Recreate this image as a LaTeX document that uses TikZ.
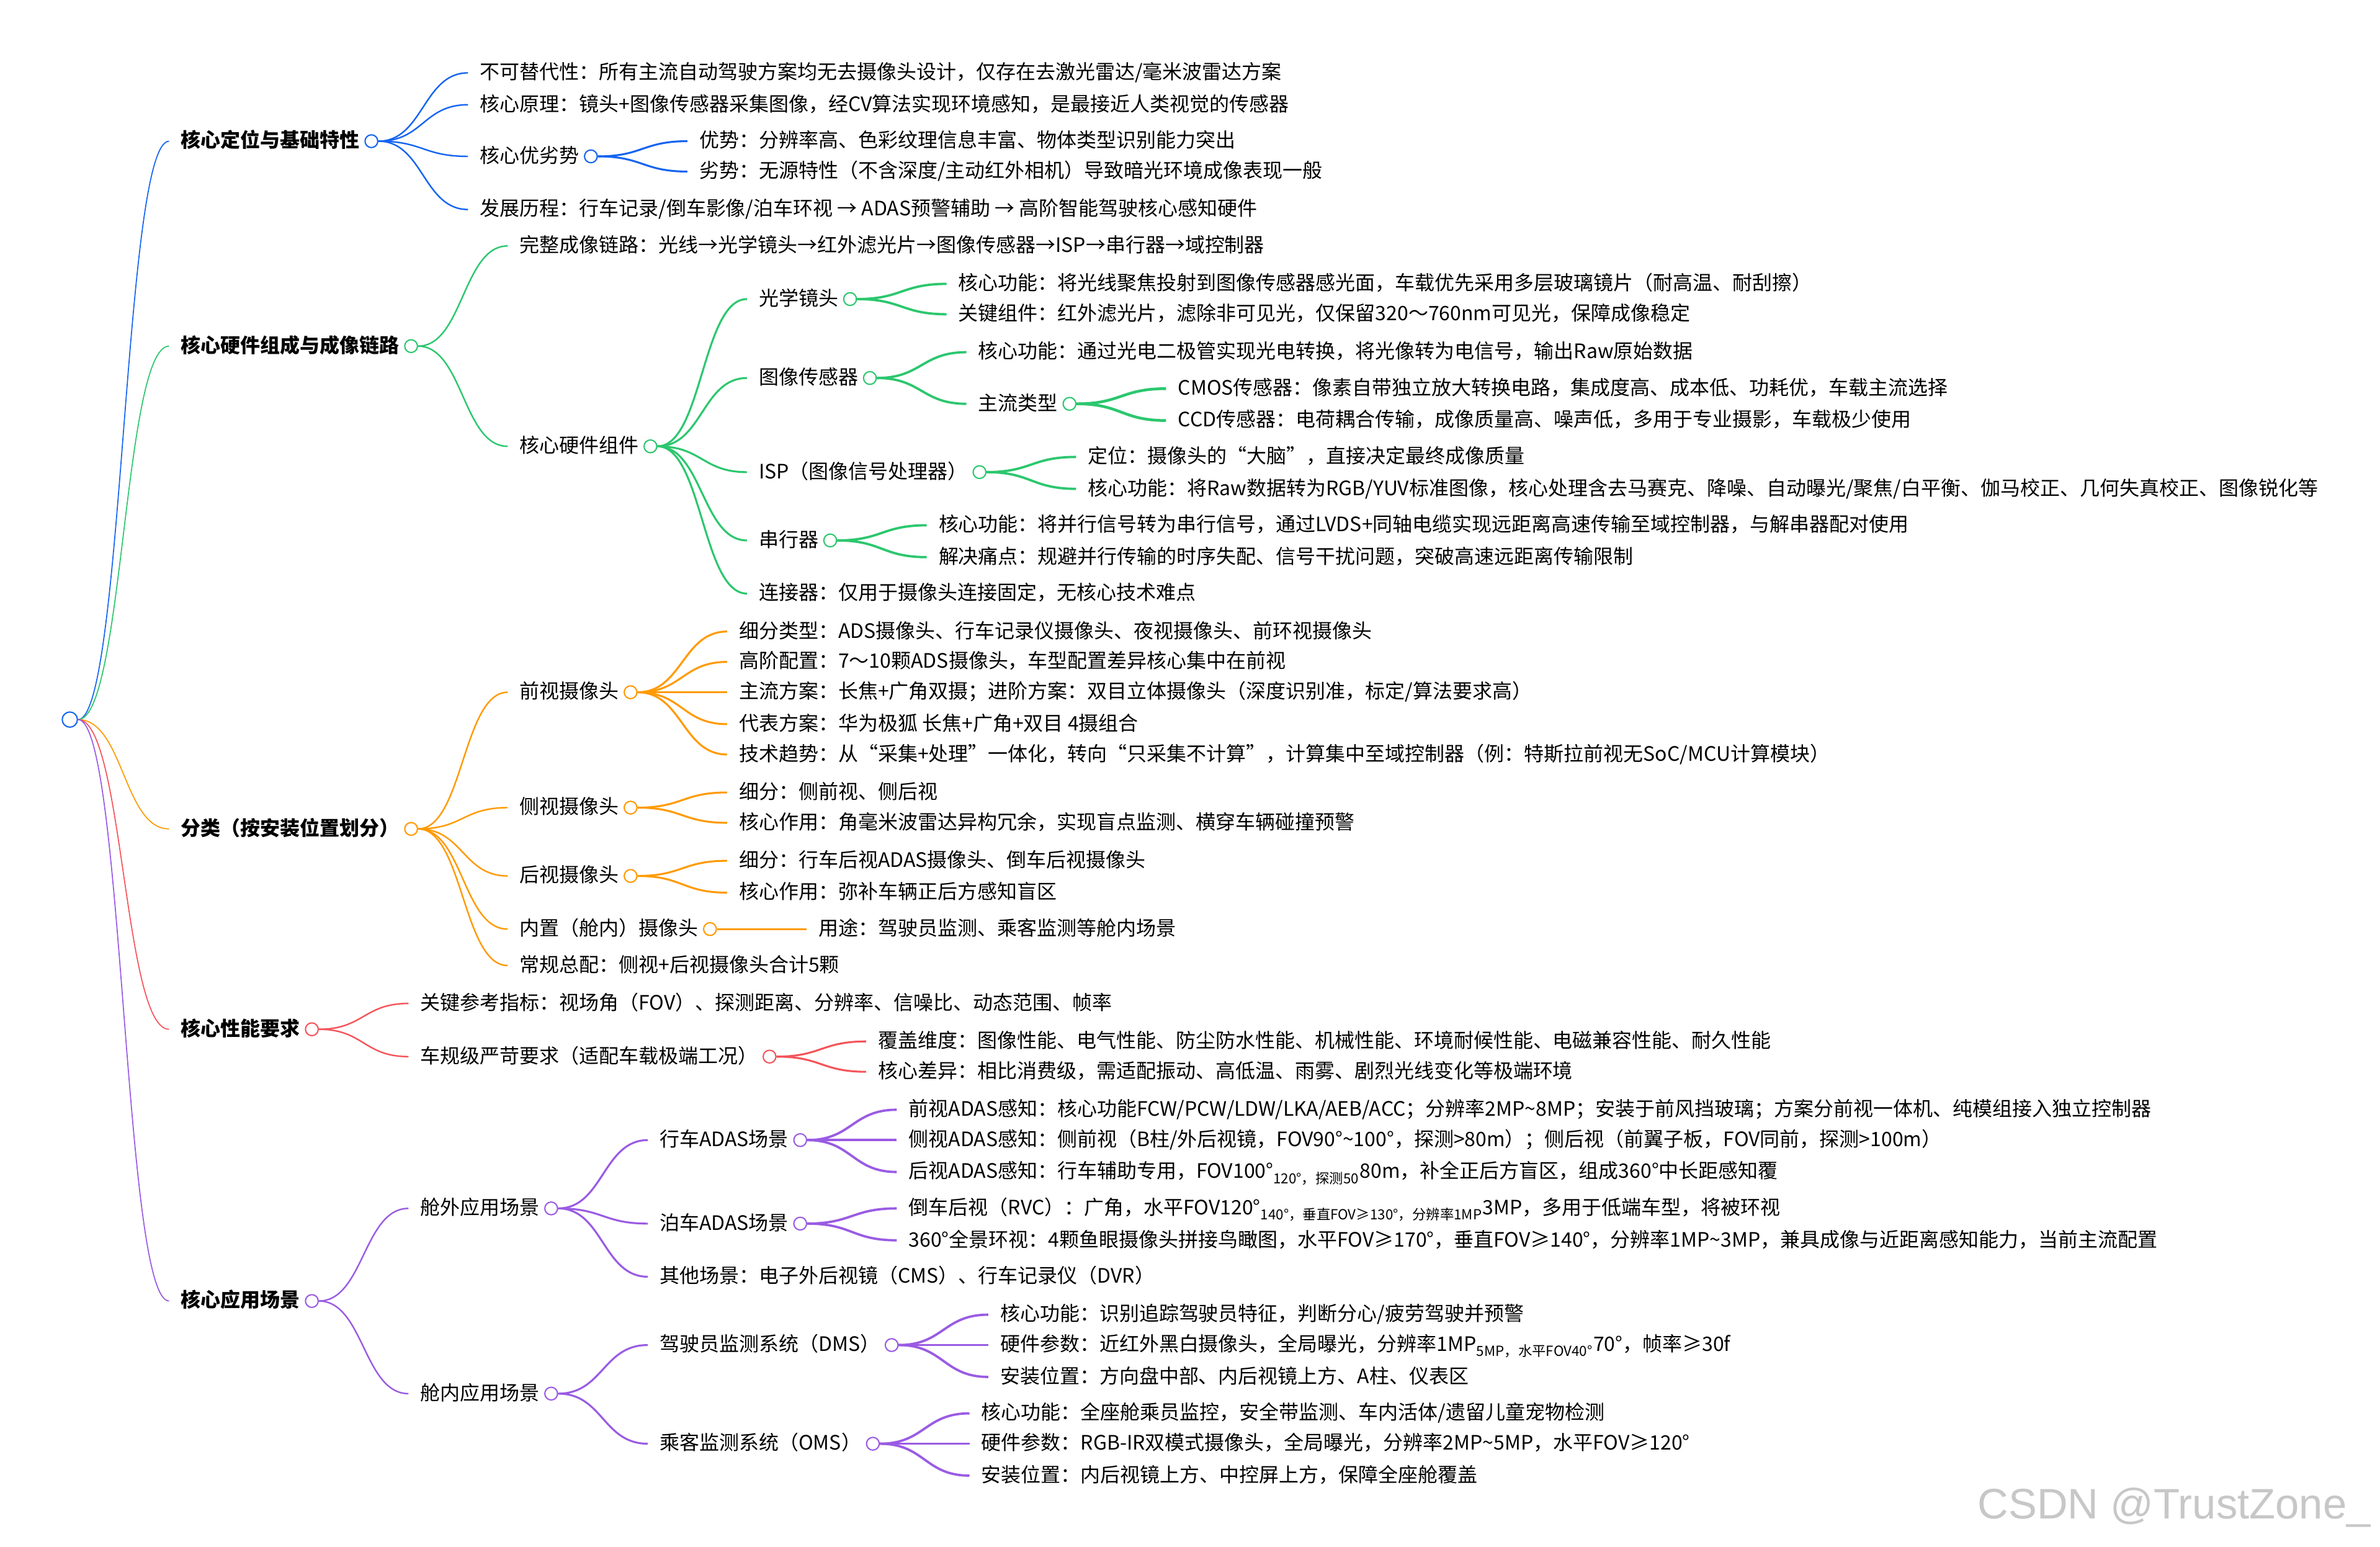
\documentclass[tikz,border=0pt]{standalone}
\usepackage{fontspec}
\newfontfamily\cjk{Noto Sans CJK SC}
\newfontfamily\wmfont{Liberation Sans}
\usetikzlibrary{positioning, calc, backgrounds}
\definecolor{mblue}{HTML}{1565F0}
\definecolor{mgreen}{HTML}{2CC76E}
\definecolor{morange}{HTML}{FF9A00}
\definecolor{mred}{HTML}{F5545A}
\definecolor{mpurple}{HTML}{9A5BE3}
\tikzset{
  txt/.style={font=\cjk\fontsize{9.3}{11}\selectfont, inner sep=0pt, anchor=west,
              text height=0.8em, text depth=0.2em},
  head/.style={txt, font=\cjk\bfseries\fontsize{9.3}{11}\selectfont},
  kid/.style={txt, xshift=1.78cm},
  knob/.style={circle, draw=#1, fill=white, line width=0.6pt, minimum size=0.21cm, inner sep=0pt},
  % curve from a knob to the left end of a child text
  branch/.style={to path={let \p1=(\tikztostart), \p2=([xshift=-0.19cm]\tikztotarget.west) in
      .. controls ({(\x1+\x2)/2},\y1) and ({(\x1+\x2)/2},\y2) .. (\p2)}},
  e1/.style={branch, line width=0.5pt},
  e2/.style={branch, line width=0.7pt},
  e3/.style={branch, line width=0.9pt},
  e4/.style={branch, line width=1.1pt},
  e5/.style={branch, line width=1.3pt},
}
\begin{document}
\begin{tikzpicture}[x=0.025cm, y=-0.025cm, node distance=0.07cm]
  \useasboundingbox (0,0) rectangle (1568,1019);

  % root
  \node[knob=mblue, minimum size=0.25cm] (root) at (46,474) {};

  % --- 核心定位与基础特性
  \node[head] (pos) at (119,93) {核心定位与基础特性};
  \node[knob=mblue, right=of pos] (posc) {};
  \node[kid] (pos1) at (posc |- 0,48) {不可替代性：所有主流自动驾驶方案均无去摄像头设计，仅存在去激光雷达/毫米波雷达方案};
  \node[kid] (pos2) at (posc |- 0,69) {核心原理：镜头+图像传感器采集图像，经CV算法实现环境感知，是最接近人类视觉的传感器};
  \node[kid] (pos3) at (posc |- 0,103) {核心优劣势};
  \node[knob=mblue, right=of pos3] (pos3c) {};
  \node[kid] (pos31) at (pos3c |- 0,93) {优势：分辨率高、色彩纹理信息丰富、物体类型识别能力突出};
  \node[kid] (pos32) at (pos3c |- 0,113) {劣势：无源特性（不含深度/主动红外相机）导致暗光环境成像表现一般};
  \node[kid] (pos4) at (posc |- 0,138) {发展历程：行车记录/倒车影像/泊车环视 → ADAS预警辅助 → 高阶智能驾驶核心感知硬件};

  % --- 核心硬件组成与成像链路
  \node[head] (hw) at (119,228) {核心硬件组成与成像链路};
  \node[knob=mgreen, right=of hw] (hwc) {};
  \node[kid] (hw1) at (hwc |- 0,162) {完整成像链路：光线→光学镜头→红外滤光片→图像传感器→ISP→串行器→域控制器};
  \node[kid] (hw2) at (hwc |- 0,294) {核心硬件组件};
  \node[knob=mgreen, right=of hw2] (hw2c) {};
  \node[kid] (lens) at (hw2c |- 0,197) {光学镜头};
  \node[knob=mgreen, right=of lens] (lensc) {};
  \node[kid] (lens1) at (lensc |- 0,187) {核心功能：将光线聚焦投射到图像传感器感光面，车载优先采用多层玻璃镜片（耐高温、耐刮擦）};
  \node[kid] (lens2) at (lensc |- 0,207) {关键组件：红外滤光片，滤除非可见光，仅保留320～760nm可见光，保障成像稳定};
  \node[kid] (sens) at (hw2c |- 0,249) {图像传感器};
  \node[knob=mgreen, right=of sens] (sensc) {};
  \node[kid] (sens1) at (sensc |- 0,232) {核心功能：通过光电二极管实现光电转换，将光像转为电信号，输出Raw原始数据};
  \node[kid] (sens2) at (sensc |- 0,266) {主流类型};
  \node[knob=mgreen, right=of sens2] (sens2c) {};
  \node[kid] (cmos) at (sens2c |- 0,256) {CMOS传感器：像素自带独立放大转换电路，集成度高、成本低、功耗优，车载主流选择};
  \node[kid] (ccd) at (sens2c |- 0,277) {CCD传感器：电荷耦合传输，成像质量高、噪声低，多用于专业摄影，车载极少使用};
  \node[kid] (isp) at (hw2c |- 0,311) {ISP（图像信号处理器）};
  \node[knob=mgreen, right=of isp] (ispc) {};
  \node[kid] (isp1) at (ispc |- 0,301) {定位：摄像头的“大脑”，直接决定最终成像质量};
  \node[kid] (isp2) at (ispc |- 0,322) {核心功能：将Raw数据转为RGB/YUV标准图像，核心处理含去马赛克、降噪、自动曝光/聚焦/白平衡、伽马校正、几何失真校正、图像锐化等};
  \node[kid] (ser) at (hw2c |- 0,356) {串行器};
  \node[knob=mgreen, right=of ser] (serc) {};
  \node[kid] (ser1) at (serc |- 0,346) {核心功能：将并行信号转为串行信号，通过LVDS+同轴电缆实现远距离高速传输至域控制器，与解串器配对使用};
  \node[kid] (ser2) at (serc |- 0,367) {解决痛点：规避并行传输的时序失配、信号干扰问题，突破高速远距离传输限制};
  \node[kid] (conn) at (hw2c |- 0,391) {连接器：仅用于摄像头连接固定，无核心技术难点};

  % --- 分类（按安装位置划分）
  \node[head] (cls) at (119,546) {分类（按安装位置划分）};
  \node[knob=morange, right=of cls] (clsc) {};
  \node[kid] (front) at (clsc |- 0,456) {前视摄像头};
  \node[knob=morange, right=of front] (frontc) {};
  \node[kid] (front1) at (frontc |- 0,416) {细分类型：ADS摄像头、行车记录仪摄像头、夜视摄像头、前环视摄像头};
  \node[kid] (front2) at (frontc |- 0,436) {高阶配置：7～10颗ADS摄像头，车型配置差异核心集中在前视};
  \node[kid] (front3) at (frontc |- 0,456) {主流方案：长焦+广角双摄；进阶方案：双目立体摄像头（深度识别准，标定/算法要求高）};
  \node[kid] (front4) at (frontc |- 0,477) {代表方案：华为极狐 长焦+广角+双目 4摄组合};
  \node[kid] (front5) at (frontc |- 0,497) {技术趋势：从“采集+处理”一体化，转向“只采集不计算”，计算集中至域控制器（例：特斯拉前视无SoC/MCU计算模块）};
  \node[kid] (side) at (clsc |- 0,532) {侧视摄像头};
  \node[knob=morange, right=of side] (sidec) {};
  \node[kid] (side1) at (sidec |- 0,522) {细分：侧前视、侧后视};
  \node[kid] (side2) at (sidec |- 0,542) {核心作用：角毫米波雷达异构冗余，实现盲点监测、横穿车辆碰撞预警};
  \node[kid] (rear) at (clsc |- 0,577) {后视摄像头};
  \node[knob=morange, right=of rear] (rearc) {};
  \node[kid] (rear1) at (rearc |- 0,567) {细分：行车后视ADAS摄像头、倒车后视摄像头};
  \node[kid] (rear2) at (rearc |- 0,588) {核心作用：弥补车辆正后方感知盲区};
  \node[kid] (inner) at (clsc |- 0,612) {内置（舱内）摄像头};
  \node[knob=morange, right=of inner] (innerc) {};
  \node[kid] (inner1) at (innerc |- 0,612) {用途：驾驶员监测、乘客监测等舱内场景};
  \node[kid] (total) at (clsc |- 0,636) {常规总配：侧视+后视摄像头合计5颗};

  % --- 核心性能要求
  \node[head] (perf) at (119,678) {核心性能要求};
  \node[knob=mred, right=of perf] (perfc) {};
  \node[kid] (perf1) at (perfc |- 0,661) {关键参考指标：视场角（FOV）、探测距离、分辨率、信噪比、动态范围、帧率};
  \node[kid] (perf2) at (perfc |- 0,696) {车规级严苛要求（适配车载极端工况）};
  \node[knob=mred, right=of perf2] (perf2c) {};
  \node[kid] (perf21) at (perf2c |- 0,686) {覆盖维度：图像性能、电气性能、防尘防水性能、机械性能、环境耐候性能、电磁兼容性能、耐久性能};
  \node[kid] (perf22) at (perf2c |- 0,706) {核心差异：相比消费级，需适配振动、高低温、雨雾、剧烈光线变化等极端环境};

  % --- 核心应用场景
  \node[head] (app) at (119,857) {核心应用场景};
  \node[knob=mpurple, right=of app] (appc) {};
  \node[kid] (outs) at (appc |- 0,796) {舱外应用场景};
  \node[knob=mpurple, right=of outs] (outsc) {};
  \node[kid] (drv) at (outsc |- 0,751) {行车ADAS场景};
  \node[knob=mpurple, right=of drv] (drvc) {};
  \node[kid] (drv1) at (drvc |- 0,731) {前视ADAS感知：核心功能FCW/PCW/LDW/LKA/AEB/ACC；分辨率2MP\textasciitilde8MP；安装于前风挡玻璃；方案分前视一体机、纯模组接入独立控制器};
  \node[kid] (drv2) at (drvc |- 0,751) {侧视ADAS感知：侧前视（B柱/外后视镜，FOV90°\textasciitilde100°，探测>80m）；侧后视（前翼子板，FOV同前，探测>100m）};
  \node[kid] (drv3) at (drvc |- 0,772) {后视ADAS感知：行车辅助专用，FOV100°\textsubscript{120°，探测50}80m，补全正后方盲区，组成360°中长距感知覆};
  \node[kid] (park) at (outsc |- 0,806) {泊车ADAS场景};
  \node[knob=mpurple, right=of park] (parkc) {};
  \node[kid] (park1) at (parkc |- 0,796) {倒车后视（RVC）：广角，水平FOV120°\textsubscript{140°，垂直FOV≥130°，分辨率1MP}3MP，多用于低端车型，将被环视};
  \node[kid] (park2) at (parkc |- 0,817) {360°全景环视：4颗鱼眼摄像头拼接鸟瞰图，水平FOV≥170°，垂直FOV≥140°，分辨率1MP\textasciitilde3MP，兼具成像与近距离感知能力，当前主流配置};
  \node[kid] (other) at (outsc |- 0,841) {其他场景：电子外后视镜（CMS）、行车记录仪（DVR）};
  \node[kid] (ins) at (appc |- 0,918) {舱内应用场景};
  \node[knob=mpurple, right=of ins] (insc) {};
  \node[kid] (dms) at (insc |- 0,886) {驾驶员监测系统（DMS）};
  \node[knob=mpurple, right=of dms] (dmsc) {};
  \node[kid] (dms1) at (dmsc |- 0,866) {核心功能：识别追踪驾驶员特征，判断分心/疲劳驾驶并预警};
  \node[kid] (dms2) at (dmsc |- 0,886) {硬件参数：近红外黑白摄像头，全局曝光，分辨率1MP\textsubscript{5MP，水平FOV40°}70°，帧率≥30f};
  \node[kid] (dms3) at (dmsc |- 0,907) {安装位置：方向盘中部、内后视镜上方、A柱、仪表区};
  \node[kid] (oms) at (insc |- 0,951) {乘客监测系统（OMS）};
  \node[knob=mpurple, right=of oms] (omsc) {};
  \node[kid] (oms1) at (omsc |- 0,931) {核心功能：全座舱乘员监控，安全带监测、车内活体/遗留儿童宠物检测};
  \node[kid] (oms2) at (omsc |- 0,951) {硬件参数：RGB-IR双模式摄像头，全局曝光，分辨率2MP\textasciitilde5MP，水平FOV≥120°};
  \node[kid] (oms3) at (omsc |- 0,972) {安装位置：内后视镜上方、中控屏上方，保障全座舱覆盖};

  % watermark
  \node[font=\wmfont\fontsize{20}{24}\selectfont, text=black!22, anchor=east, inner sep=0pt] (mark) at (1562,993) {CSDN @TrustZone\_};

  % connectors
  \begin{scope}[on background layer]
    \fill[white] (0,0) rectangle (1568,1019);
    \draw[e1, mblue] (root.east) to (pos);
    \draw[e1, mgreen] (root.east) to (hw);
    \draw[e1, morange] (root.east) to (cls);
    \draw[e1, mred] (root.east) to (perf);
    \draw[e1, mpurple] (root.east) to (app);
    \foreach \t in {pos1,pos2,pos3,pos4} \draw[e2, mblue] (posc.east) to (\t);
    \foreach \t in {pos31,pos32} \draw[e3, mblue] (pos3c.east) to (\t);
    \foreach \t in {hw1,hw2} \draw[e2, mgreen] (hwc.east) to (\t);
    \foreach \t in {lens,sens,isp,ser,conn} \draw[e3, mgreen] (hw2c.east) to (\t);
    \foreach \t in {lens1,lens2} \draw[e4, mgreen] (lensc.east) to (\t);
    \foreach \t in {sens1,sens2} \draw[e4, mgreen] (sensc.east) to (\t);
    \foreach \t in {cmos,ccd} \draw[e5, mgreen] (sens2c.east) to (\t);
    \foreach \t in {isp1,isp2} \draw[e4, mgreen] (ispc.east) to (\t);
    \foreach \t in {ser1,ser2} \draw[e4, mgreen] (serc.east) to (\t);
    \foreach \t in {front,side,rear,inner,total} \draw[e2, morange] (clsc.east) to (\t);
    \foreach \t in {front1,front2,front3,front4,front5} \draw[e3, morange] (frontc.east) to (\t);
    \foreach \t in {side1,side2} \draw[e3, morange] (sidec.east) to (\t);
    \foreach \t in {rear1,rear2} \draw[e3, morange] (rearc.east) to (\t);
    \draw[e3, morange] (innerc.east) to (inner1);
    \foreach \t in {perf1,perf2} \draw[e2, mred] (perfc.east) to (\t);
    \foreach \t in {perf21,perf22} \draw[e3, mred] (perf2c.east) to (\t);
    \foreach \t in {outs,ins} \draw[e2, mpurple] (appc.east) to (\t);
    \foreach \t in {drv,park,other} \draw[e3, mpurple] (outsc.east) to (\t);
    \foreach \t in {drv1,drv2,drv3} \draw[e4, mpurple] (drvc.east) to (\t);
    \foreach \t in {park1,park2} \draw[e4, mpurple] (parkc.east) to (\t);
    \foreach \t in {dms,oms} \draw[e3, mpurple] (insc.east) to (\t);
    \foreach \t in {dms1,dms2,dms3} \draw[e4, mpurple] (dmsc.east) to (\t);
    \foreach \t in {oms1,oms2,oms3} \draw[e4, mpurple] (omsc.east) to (\t);
  \end{scope}
\end{tikzpicture}
\end{document}
